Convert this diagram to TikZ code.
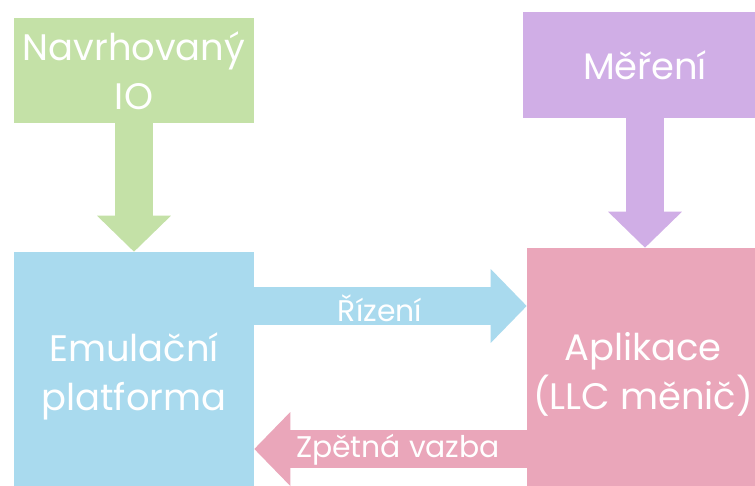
\documentclass[tikz,border=0pt]{standalone}
\usepackage{fontspec}
\setmainfont{Poppins}
\usetikzlibrary{arrows.meta}
\definecolor{navrhgreen}{RGB}{196,225,167}
\definecolor{mereniviolet}{RGB}{208,174,230}
\definecolor{emulblue}{RGB}{169,218,238}
\definecolor{aplpink}{RGB}{234,166,186}
\tikzset{
  blok/.style={draw=none, text=white, align=center, inner sep=0pt, font=\fontsize{21}{28}\selectfont},
  sipka/.style={line width=0.76cm, -{Triangle[width=1.48cm, length=0.72cm, line width=0pt]}},
  popis/.style={text=white, inner sep=0pt, font=\fontsize{17}{20}\selectfont}
}

\begin{document}
\begin{tikzpicture}[x=0.02cm, y=-0.02cm]
		%%%%% START %%%%%
		\clip (0,0) rectangle (755,486);
		\fill[white] (0,0) rectangle (755,486);
		
		\node[blok, fill=navrhgreen, minimum width=4.8cm, minimum height=2.1cm] (navrh) at (134,70.5) {Navrhovaný\\IO};
		\node[blok, fill=mereniviolet, minimum width=4.88cm, minimum height=2.12cm] (mereni) at (645,65) {Měření};
		\node[blok, fill=emulblue, minimum width=4.8cm, minimum height=4.96cm] (emul) at (134,376) {Emulační\\platforma};
		\node[blok, fill=aplpink, minimum width=4.64cm, minimum height=5.04cm] (apl) at (643,374) {Aplikace\\(LLC měnič)};
		
		\coordinate (rizeniY) at (0,306);
		\coordinate (zpetnaY) at (0,449);
		
		\draw[sipka, navrhgreen] (navrh.south) -- (emul.north);
		\draw[sipka, mereniviolet] (mereni.south) -- (mereni.south |- apl.north);
		\draw[sipka, emulblue] (emul.east |- rizeniY) -- (apl.west |- rizeniY);
		\draw[sipka, aplpink] (apl.west |- zpetnaY) -- (emul.east |- zpetnaY);
		
		\node[popis] (rizeni) at (380,308) {Řízení};
		\node[popis] (zpetna) at (398,450) {Zpětná vazba};
		%%%%% END %%%%%
\end{tikzpicture}
\end{document}
